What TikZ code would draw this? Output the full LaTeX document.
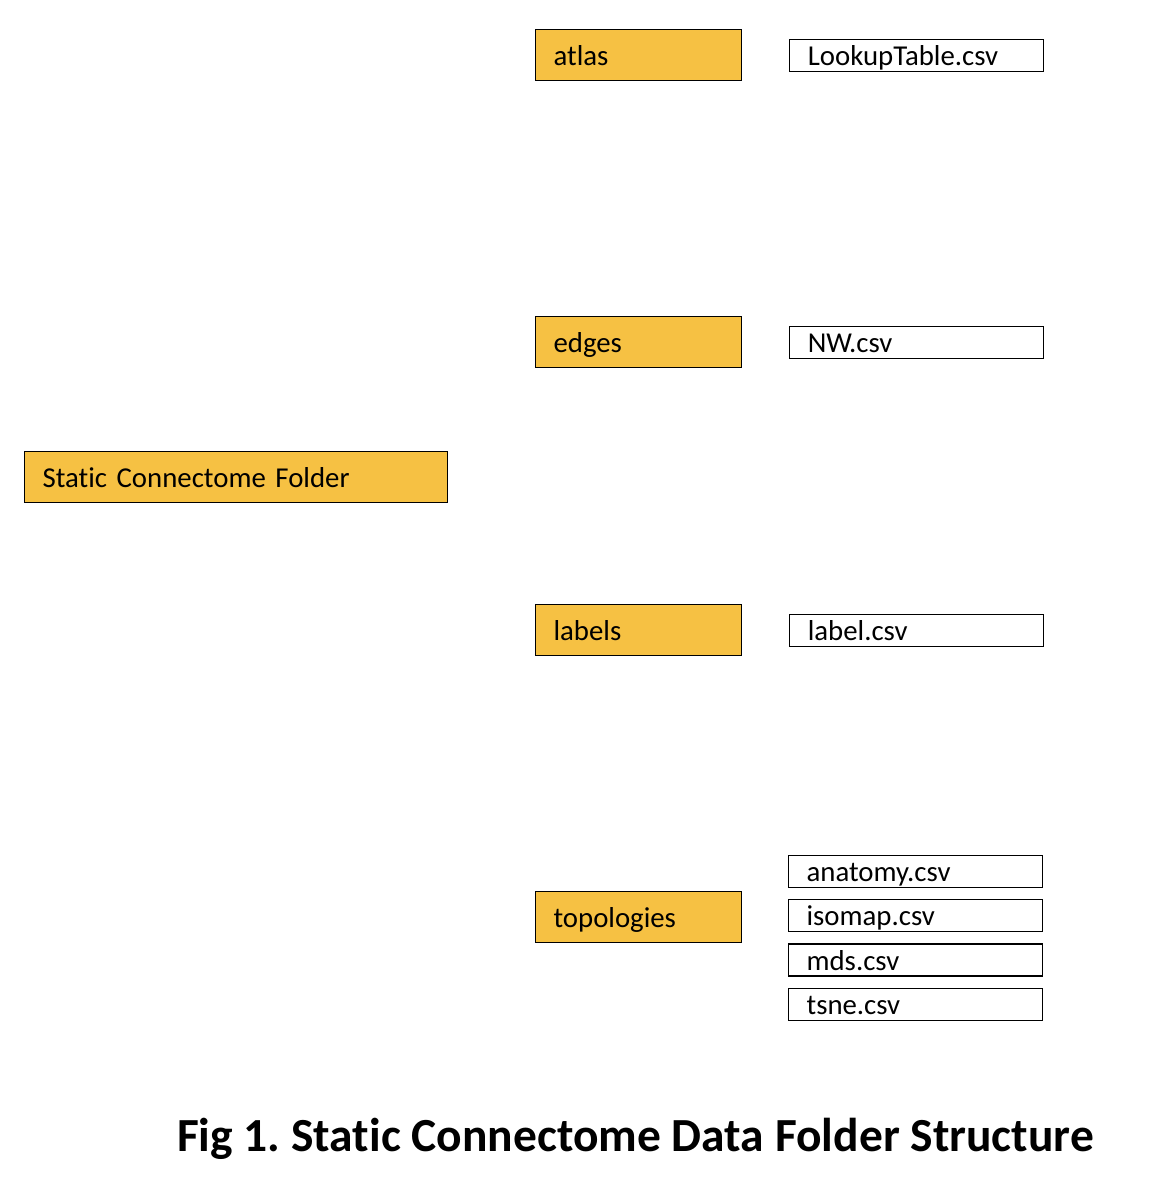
\documentclass[tikz,border=0pt]{standalone}
\usepackage{fontspec}
\setmainfont{Carlito}[Ligatures={NoCommon,NoDiscretionary,NoContextual}]
\usetikzlibrary{positioning}
\definecolor{folderorange}{RGB}{246,193,67}
\frenchspacing

\begin{document}
\begin{tikzpicture}
[x=1pt, y=-1pt, node distance = 47pt,
folder/.style={draw=black, fill=folderorange, line width=1.2pt, minimum height=51pt, inner xsep=18pt, inner ysep=0pt, text height=20pt, text depth=0pt, align=left, font=\fontsize{28.8}{32}\selectfont},
file/.style={draw=black, fill=white, line width=1.2pt, minimum height=32pt, inner xsep=18pt, inner ysep=0pt, text width=218pt, text height=20pt, text depth=0pt, align=left, font=\fontsize{28.8}{32}\selectfont}]

\useasboundingbox (0,0) rectangle (1164,1194);

\node[folder, text width=387pt, anchor=north west] (root) at(24,451) {Static Connectome Folder};

\node[folder, text width=170pt, anchor=north west] (atlas) at(535,29) {atlas};
\node[folder, text width=170pt, anchor=north west] (edges) at(535,316) {edges};
\node[folder, text width=170pt, anchor=north west] (labels) at(535,604) {labels};
\node[folder, text width=170pt, anchor=north west] (topologies) at(535,891) {topologies};

\node[file, right =of atlas] (lookup) {LookupTable.csv};
\node[file, right =of edges] (nw) {NW.csv};
\node[file, right =of labels] (label) {label.csv};

\node[file, anchor=north west] (anatomy) at(788,855) {anatomy.csv};
\node[file, below =11pt of anatomy] (isomap) {isomap.csv};
\node[file, below =11pt of isomap] (mds) {mds.csv};
\node[file, below =11pt of mds] (tsne) {tsne.csv};

\node[font=\bfseries\fontsize{47.5}{52}\selectfont, anchor=base] (title) at(635.5,1151.7) {Fig 1. Static Connectome Data Folder Structure};
\end{tikzpicture}
\end{document}
